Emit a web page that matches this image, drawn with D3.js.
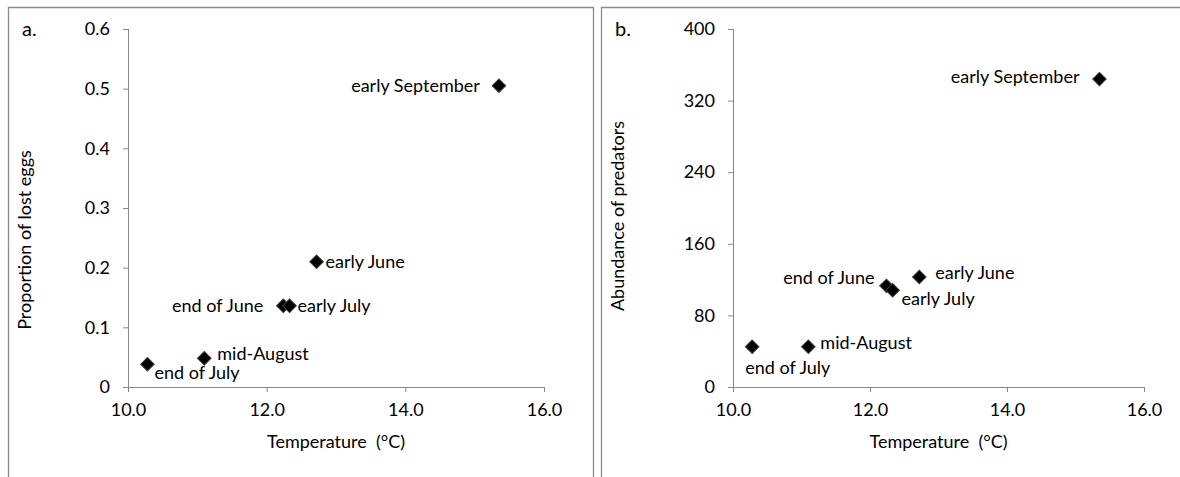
<!DOCTYPE html>
<html>
<head>
<meta charset="utf-8">
<script src="https://cdn.jsdelivr.net/npm/d3@7"></script>
<style>
  body { margin: 0; background: #fff; }
  text { font-family: Lato, 'Noto Sans', sans-serif; fill: #000; white-space: pre; }
</style>
</head>
<body>
<div id="chart"></div>
<script>
// sampling periods and measured values
const periods = ['early September', 'early June', 'end of June', 'early July', 'mid-August', 'end of July'];
const temperature = [15.35, 12.72, 12.24, 12.33, 11.1, 10.28];
const lostEggs = [0.505, 0.21, 0.136, 0.136, 0.048, 0.038];
const predators = [344, 123, 113, 108, 45, 45];

const xTicks = [10, 12, 14, 16];
const yTicksA = [0, 0.1, 0.2, 0.3, 0.4, 0.5, 0.6];
const yTicksB = [0, 80, 160, 240, 320, 400];

// label offsets from marker centre: [dx, dy, anchor]
const labelPosA = [[-19, 0, 'end'], [9, 0, 'start'], [-20, 0, 'end'], [8, 0, 'start'], [13, -5, 'start'], [7, 8, 'start']];
const labelPosB = [[-20, -2, 'end'], [16, -4, 'start'], [-12, -8, 'end'], [9, 8, 'start'], [12, -4, 'start'], [-7, 21, 'start']];

const W = 1180, H = 477;
const axisColor = '#868686';
const fs = 18;

const svg = d3.select('#chart')
  .append('svg')
  .attr('width', W)
  .attr('height', H);

svg.append('rect').attr('width', W).attr('height', H).attr('fill', '#fff');

// panel frames (open at the bottom, b open on the right)
svg.append('path')
  .attr('d', 'M8.5,477 L8.5,7.5 L593.5,7.5 L593.5,477')
  .attr('fill', 'none').attr('stroke', '#8c8c8c').attr('stroke-width', 1.3);
svg.append('path')
  .attr('d', 'M601.5,477 L601.5,7.5 L1180,7.5')
  .attr('fill', 'none').attr('stroke', '#8c8c8c').attr('stroke-width', 1.3);

function panel(cfg) {
  const x = d3.scaleLinear().domain([10, 16]).range([cfg.left, cfg.right]);
  const y = d3.scaleLinear().domain(cfg.yDomain).range([387, 29]);
  const g = svg.append('g');

  const xAxis = g.append('g')
    .attr('transform', `translate(0,${y(0)})`)
    .call(d3.axisBottom(x).tickValues(xTicks).tickSize(5).tickPadding(11).tickFormat(d3.format('.1f')));
  const yAxis = g.append('g')
    .attr('transform', `translate(${x(10)},0)`)
    .call(d3.axisLeft(y).tickValues(cfg.yTicks).tickSize(5).tickPadding(13).tickFormat(cfg.fmt));

  [xAxis, yAxis].forEach(a => {
    a.select('.domain').attr('stroke', axisColor).attr('d', null);
    a.selectAll('.tick line').attr('stroke', axisColor);
    a.selectAll('.tick text').attr('font-size', fs).attr('font-family', 'Lato, sans-serif').attr('fill', '#000');
  });
  // straight axis lines without end caps
  g.append('line')
    .attr('x1', x(10)).attr('x2', x(16)).attr('y1', y(0) + 0.5).attr('y2', y(0) + 0.5)
    .attr('stroke', axisColor);
  g.append('line')
    .attr('x1', x(10) + 0.5).attr('x2', x(10) + 0.5).attr('y1', y(cfg.yDomain[1])).attr('y2', y(0))
    .attr('stroke', axisColor);

  g.append('text')
    .attr('x', (cfg.left + cfg.right) / 2).attr('y', 448)
    .attr('text-anchor', 'middle').attr('font-size', fs)
    .text('Temperature  (°C)');

  g.append('text')
    .attr('transform', `translate(${cfg.titleX},${cfg.titleY}) rotate(-90)`)
    .attr('text-anchor', 'middle').attr('font-size', fs)
    .text(cfg.title);

  g.append('text')
    .attr('x', cfg.tagX).attr('y', 36)
    .attr('font-size', 20)
    .text(cfg.tag);

  const pts = periods.map((p, i) => ({ name: p, t: temperature[i], v: cfg.values[i], pos: cfg.labels[i] }));

  g.selectAll('.marker')
    .data(pts)
    .enter()
    .append('path')
    .attr('class', 'marker')
    .attr('d', d3.symbol().type(d3.symbolSquare).size(92))
    .attr('transform', d => `translate(${x(d.t)},${y(d.v)}) rotate(45)`)
    .attr('fill', '#000')
    .attr('stroke', '#3a3a3a')
    .attr('stroke-width', 1);

  g.selectAll('.lbl')
    .data(pts)
    .enter()
    .append('text')
    .attr('class', 'lbl')
    .attr('x', d => x(d.t) + d.pos[0])
    .attr('y', d => y(d.v) + d.pos[1])
    .attr('dy', '0.35em')
    .attr('text-anchor', d => d.pos[2])
    .attr('font-size', fs)
    .text(d => d.name);
}

panel({
  left: 128, right: 544, yDomain: [0, 0.6], yTicks: yTicksA, fmt: d => d === 0 ? '0' : d3.format('.1f')(d),
  values: lostEggs, labels: labelPosA, title: 'Proportion of lost eggs', titleX: 31, titleY: 240, tag: 'a.', tagX: 22
});
panel({
  left: 733, right: 1144, yDomain: [0, 400], yTicks: yTicksB, fmt: d3.format('d'),
  values: predators, labels: labelPosB, title: 'Abundance of predators', titleX: 624, titleY: 216, tag: 'b.', tagX: 615
});
</script>
</body>
</html>
